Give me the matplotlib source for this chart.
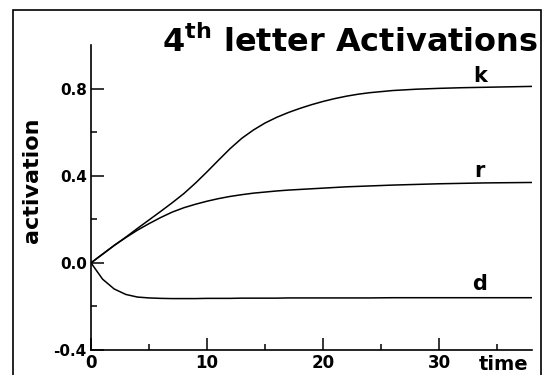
import matplotlib
matplotlib.use("Agg")
import matplotlib.pyplot as plt
from matplotlib.patches import Rectangle

plt.rcParams['font.family'] = ['DejaVu Sans']
plt.rcParams['mathtext.fontset'] = 'dejavusans'

# data
time = [0, 1, 2, 3, 4, 5, 6, 7, 8, 9, 10, 11, 12, 13, 14, 15, 16, 17, 18, 19,
        20, 21, 22, 23, 24, 26, 28, 30, 32, 34, 36, 38]
k_act = [0.0, 0.04, 0.08, 0.118, 0.158, 0.197, 0.236, 0.276, 0.318, 0.366, 0.418,
         0.472, 0.525, 0.572, 0.61, 0.642, 0.668, 0.69, 0.709, 0.726, 0.741, 0.754,
         0.765, 0.774, 0.781, 0.791, 0.797, 0.801, 0.804, 0.806, 0.808, 0.81]
r_act = [0.0, 0.04, 0.08, 0.116, 0.15, 0.18, 0.208, 0.233, 0.253, 0.269, 0.283,
         0.295, 0.305, 0.313, 0.32, 0.325, 0.33, 0.334, 0.337, 0.34, 0.343,
         0.346, 0.349, 0.351, 0.353, 0.357, 0.36, 0.363, 0.365, 0.367, 0.368, 0.369]
d_act = [0.0, -0.075, -0.12, -0.145, -0.157, -0.161, -0.163, -0.164, -0.164,
         -0.164, -0.163, -0.163, -0.163, -0.162, -0.162, -0.162, -0.162, -0.161,
         -0.161, -0.161, -0.161, -0.161, -0.161, -0.161, -0.161, -0.16, -0.16,
         -0.16, -0.16, -0.16, -0.16, -0.16]
series_names = ['k', 'r', 'd']
x_ticks = [0, 10, 20, 30]
y_ticks = [-0.4, 0.0, 0.4, 0.8]
y_ticklabels = ['-0.4', '0.0', '0.4', '0.8']

W, H = 545, 375
fig = plt.figure(figsize=(W / 100, H / 100), dpi=100)
ax = fig.add_axes([91 / W, 1 - 350 / H, (532 - 91) / W, (350 - 45) / H])

for vals in (k_act, r_act, d_act):
    ax.plot(time, vals, color='black', lw=1.1)

ax.set_xlim(0, 38)
ax.set_ylim(-0.4, 1.0)
ax.spines['top'].set_visible(False)
ax.spines['right'].set_visible(False)
for s in ('left', 'bottom'):
    ax.spines[s].set_linewidth(1.2)

ax.set_xticks(x_ticks)
ax.set_xticklabels([str(v) for v in x_ticks], fontsize=12, fontweight='bold')
ax.set_xticks([5, 15, 25, 35], minor=True)
ax.set_yticks(y_ticks)
ax.set_yticklabels(y_ticklabels, fontsize=11, fontweight='bold')
ax.set_yticks([-0.2, 0.2, 0.6], minor=True)
ax.tick_params(axis='both', which='major', direction='in', length=9, width=1.1)
ax.tick_params(axis='both', which='minor', direction='in', length=4.5, width=1.1)
ax.tick_params(axis='x', which='major', pad=3)
ax.tick_params(axis='y', which='major', pad=3)

# curve labels
label_pos = {'k': 0.86, 'r': 0.42, 'd': -0.095}
for name in series_names:
    ax.text(33.5, label_pos[name], name, fontsize=15, fontweight='bold',
            ha='center', va='center')

# axis labels
fig.text(504 / W, 1 - 364 / H, 'time', fontsize=14, fontweight='bold',
         ha='center', va='center')
fig.text(32 / W, 1 - 180 / H, 'activation', fontsize=16, fontweight='bold',
         rotation=90, ha='center', va='center')

# title
fig.text(538 / W, 1 - 52 / H, r'4$^{\mathbf{th}}$ letter Activations',
         fontsize=23, fontweight='bold', ha='right', va='baseline')

# outer frame
fig.patches.append(Rectangle((13 / W, -0.05), (541 - 13) / W, 1 - 10 / H + 0.05,
                             transform=fig.transFigure, fill=False,
                             edgecolor='black', lw=1.2, clip_on=False))

fig.savefig('out.png', dpi=100)
